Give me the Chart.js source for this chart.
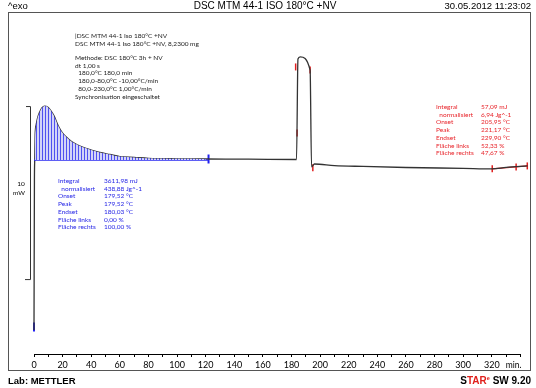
<!DOCTYPE html>
<html>
<head>
<meta charset="utf-8">
<script src="https://cdn.jsdelivr.net/npm/chart.js@4/dist/chart.umd.min.js"></script>
<style>
    body { margin: 0; background: #fff; }
    canvas { display: block; }
</style>
</head>
<body>
<canvas id="dscChart" width="536" height="388"></canvas>
<script>
// time axis (min) and heat flow (mW)
const timeMin = [0, 0.3, 0.5, 0.8, 1.5, 2.5, 4, 5.5, 7.5, 9.5, 11.5, 14, 17, 20, 24, 28, 33, 40, 46, 53, 60, 70, 80, 100, 120, 150, 183.5, 184.5, 186, 193, 194, 196, 210, 230, 260, 300, 320, 330, 345];
const heatFlow = [-9.88, -1.21, -0.06, 1.39, 1.97, 2.37, 2.72, 2.95, 3.06, 3.01, 2.83, 2.49, 1.91, 1.50, 1.16, 0.92, 0.72, 0.52, 0.38, 0.26, 0.14, 0.09, 0.04, 0.01, 0.00, -0.01, -0.03, 5.78, 5.90, 5.14, -0.46, -0.29, -0.38, -0.43, -0.49, -0.54, -0.57, -0.49, -0.40];

// integration limits (first peak = blue, second = red)
const bluePeakStart = 0.5;
const bluePeakEnd = 120;
const blueBaseline = [[0, -0.06], [122, -0.06]];
const blueMarkers = [[0, -9.71], [122, 0]];
const redBaseline = [[320, -0.57], [345, -0.40]];
const redMarkers = [[182.9, 5.32], [183.9, 1.50], [193, 5.14], [194.9, -0.50], [320.3, -0.57], [337, -0.46], [344.8, -0.40]];

const xTicksMax = 340;
const scaleBarMW = 10;

const headerLines = [
    '|DSC MTM 44-1 Iso 180°C +NV',
    'DSC MTM 44-1 Iso 180°C +NV, 8,2300 mg'
];
const methodLines = [
    'Methode: DSC 180°C 3h + NV',
    'dt 1,00 s',
    '  180,0°C 180,0 min',
    '  180,0-80,0°C -10,00°C/min',
    '  80,0-230,0°C 1,00°C/min',
    'Synchronisation eingeschaltet'
];
const blueLabels = ['Integral', '  normalisiert', 'Onset', 'Peak', 'Endset', 'Fläche links', 'Fläche rechts'];
const blueValues = ['3611,98 mJ', '438,88 Jg^-1', '179,52 °C', '179,52 °C', '180,03 °C', '0,00 %', '100,00 %'];
const redLabels = ['Integral', '  normalisiert', 'Onset', 'Peak', 'Endset', 'Fläche links', 'Fläche rechts'];
const redValues = ['57,09 mJ', '6,94 Jg^-1', '205,95 °C', '221,17 °C', '229,90 °C', '52,33 %', '47,67 %'];

const curve = timeMin.map((t, i) => ({ x: t, y: heatFlow[i] }));
const peakArea = curve.filter(p => p.x >= bluePeakStart && p.x <= bluePeakEnd);
const toPts = arr => arr.map(([x, y]) => ({ x: x, y: y }));

// vertical hatching for the integrated area
function hatchPattern() {
    const c = document.createElement('canvas');
    c.width = 3;
    c.height = 4;
    const g = c.getContext('2d');
    g.fillStyle = '#d3d4f8';
    g.fillRect(0, 0, 3, 4);
    g.fillStyle = '#5050f0';
    g.fillRect(0, 0, 1, 4);
    return g.createPattern(c, 'repeat');
}

const decorations = {
    id: 'decorations',
    afterDraw(chart) {
        const ctx = chart.ctx;
        const x = chart.scales.x;
        const y = chart.scales.y;
        ctx.save();

        // frame
        ctx.strokeStyle = '#555';
        ctx.lineWidth = 1;
        ctx.strokeRect(8.5, 12.5, 522, 358);

        // x axis line + unit
        ctx.strokeStyle = '#000';
        ctx.beginPath();
        ctx.moveTo(x.getPixelForValue(0), chart.chartArea.bottom + 0.5);
        ctx.lineTo(x.getPixelForValue(xTicksMax), chart.chartArea.bottom + 0.5);
        ctx.stroke();
        ctx.fillStyle = '#000';
        ctx.font = '8.5px Lato';
        ctx.textAlign = 'right';
        ctx.textBaseline = 'middle';
        ctx.fillText('min.', x.getPixelForValue(xTicksMax) + 1, 365);

        // 10 mW scale bar
        const top = y.getPixelForValue(3.06);
        const bot = y.getPixelForValue(3.06 - scaleBarMW);
        ctx.strokeStyle = '#333';
        ctx.beginPath();
        ctx.moveTo(26, top + 0.5);
        ctx.lineTo(30.5, top + 0.5);
        ctx.lineTo(30.5, bot + 0.5);
        ctx.lineTo(25, bot + 0.5);
        ctx.stroke();
        ctx.font = '6.5px Lato';
        ctx.textAlign = 'center';
        ctx.fillText('10', 21, 184);
        ctx.fillText('mW', 19, 193);

        // header and footer
        ctx.font = '9.5px "Liberation Sans"';
        ctx.textBaseline = 'middle';
        ctx.textAlign = 'left';
        ctx.fillText('^exo', 8, 6);
        ctx.textAlign = 'center';
        ctx.font = '10px "Liberation Sans"';
        ctx.fillText('DSC MTM 44-1 ISO 180°C +NV', 265, 6);
        ctx.font = '9.5px "Liberation Sans"';
        ctx.textAlign = 'right';
        ctx.fillText('30.05.2012 11:23:02', 531, 6);

        ctx.font = 'bold 9.5px "Liberation Sans"';
        ctx.textAlign = 'left';
        ctx.fillText('Lab: METTLER', 8, 381);
        ctx.font = 'bold 10px "Liberation Sans"';
        let px = 531 - ctx.measureText(' SW 9.20').width;
        ctx.textAlign = 'right';
        ctx.fillText(' SW 9.20', 531, 381);
        ctx.font = 'bold 5.5px "Liberation Sans"';
        ctx.fillStyle = '#e0201c';
        const eW = ctx.measureText('e').width;
        ctx.fillText('e', px, 378);
        px -= eW;
        ctx.font = 'bold 10px "Liberation Sans"';
        ctx.fillText('TAR', px, 381);
        px -= ctx.measureText('TAR').width;
        ctx.fillStyle = '#000';
        ctx.fillText('S', px, 381);

        // method text
        ctx.font = '6.5px Lato';
        ctx.textAlign = 'left';
        ctx.fillStyle = '#222';
        headerLines.forEach((s, i) => ctx.fillText(s, 75, 36 + i * 8));
        methodLines.forEach((s, i) => ctx.fillText(s, 75, 58 + i * 7.7));

        // evaluation results
        ctx.fillStyle = '#2626e6';
        blueLabels.forEach((s, i) => ctx.fillText(s, 58, 181 + i * 7.7));
        blueValues.forEach((s, i) => ctx.fillText(s, 104, 181 + i * 7.7));
        ctx.fillStyle = '#e8242a';
        redLabels.forEach((s, i) => ctx.fillText(s, 436, 107 + i * 7.7));
        redValues.forEach((s, i) => ctx.fillText(s, 481, 107 + i * 7.7));

        ctx.restore();
    }
};

new Chart(document.getElementById('dscChart'), {
    type: 'line',
    data: {
        datasets: [
            {
                data: peakArea,
                borderWidth: 0,
                pointRadius: 0,
                backgroundColor: hatchPattern(),
                fill: { value: -0.06 },
                tension: 0.3
            },
            {
                data: toPts(blueBaseline),
                borderColor: '#2a2af0',
                borderWidth: 1.2,
                pointRadius: 0
            },
            {
                data: curve,
                borderColor: '#333',
                borderWidth: 1.3,
                pointRadius: 0,
                clip: false,
                tension: 0.3,
                cubicInterpolationMode: 'monotone'
            },
            {
                data: toPts(redBaseline),
                borderColor: '#d42020',
                borderWidth: 1.2,
                pointRadius: 0
            },
            {
                data: toPts(blueMarkers),
                showLine: false,
                clip: false,
                pointStyle: 'line',
                rotation: 90,
                pointRadius: 4.5,
                borderWidth: 2,
                borderColor: '#2020f0'
            },
            {
                data: toPts(redMarkers),
                showLine: false,
                clip: false,
                pointStyle: 'line',
                rotation: 90,
                pointRadius: 3.5,
                borderWidth: 1.5,
                borderColor: '#e02020'
            }
        ]
    },
    options: {
        responsive: false,
        animation: false,
        devicePixelRatio: 1,
        layout: { padding: { left: 34, right: 7, top: 14, bottom: 0 } },
        plugins: {
            legend: { display: false },
            tooltip: { enabled: false }
        },
        scales: {
            x: {
                type: 'linear',
                min: 0,
                max: 346,
                border: { display: false },
                grid: {
                    drawOnChartArea: false,
                    drawTicks: true,
                    tickLength: 3,
                    color: '#000'
                },
                ticks: {
                    stepSize: 10,
                    includeBounds: false,
                    autoSkip: false,
                    maxRotation: 0,
                    padding: 3,
                    color: '#000',
                    font: { family: 'Lato', size: 9 },
                    callback: v => (v % 20 === 0 && v <= 320) ? String(v) : ''
                },
                afterFit(scale) { scale.height = 34; }
            },
            y: {
                display: false,
                min: -11.27,
                max: 8.38
            }
        }
    },
    plugins: [decorations]
});
</script>
</body>
</html>
